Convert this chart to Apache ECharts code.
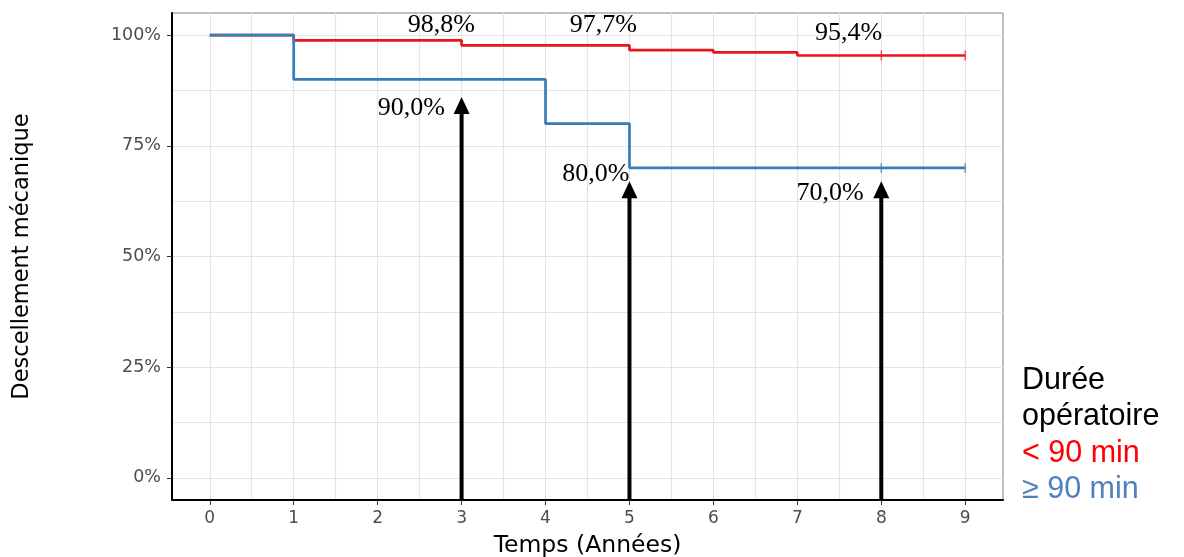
<!DOCTYPE html>
<html><head><meta charset="utf-8">
<script src="https://cdn.jsdelivr.net/npm/echarts@6/dist/echarts.min.js"></script>
<style>html,body{margin:0;padding:0;background:#fff}#c{width:1184px;height:557px}</style>
</head><body><div id="c"></div>
<script>
// Data
const redSteps = [[0,100],[1,98.8],[3,97.7],[5,96.6],[6,96.1],[7,95.4],[9,95.4]];
const blueSteps = [[0,100],[1,90],[4,80],[5,70],[9,70]];
const redCensor = [[8,95.4],[9,95.4]];
const blueCensor = [[8,70],[9,70]];
const xTicks = [0,1,2,3,4,5,6,7,8,9];
const yTicks = [0,25,50,75,100];
const xGrid = [0,0.5,1,1.5,2,2.5,3,3.5,4,4.5,5,5.5,6,6.5,7,7.5,8,8.5,9];
const yGrid = [0,12.5,25,37.5,50,62.5,75,87.5,100];
const arrows = [[3,86],[5,67],[8,67]];
const annotations = [[2.76,102.3,'98,8%'],[4.69,102.3,'97,7%'],[7.61,100.5,'95,4%'],[2.40,83.5,'90,0%'],[4.60,68.6,'80,0%'],[7.39,64.3,'70,0%']];
const legendTitle = ['Durée','opératoire'];
const legendItems = ['< 90 min','≥ 90 min'];
const RED = '#e8161c', BLUE = '#377eb8';

const chart = echarts.init(document.getElementById('c'));
const gridLines = [...xGrid.map(v=>({xAxis:v})), ...yGrid.map(v=>({yAxis:v}))];
const legendStyle = {fontFamily:'Liberation Sans',fontSize:30.5,verticalAlign:'middle'};
chart.setOption({
  animation:false,
  grid:{left:172,right:181,top:13,bottom:57,show:true,borderColor:'#7f7f7f',borderWidth:1,containLabel:false,outerBoundsMode:'none'},
  xAxis:{type:'value',min:-0.45,max:9.45,
    name:'Temps (Années)',nameLocation:'middle',nameGap:34,
    nameTextStyle:{fontFamily:'DejaVu Sans',fontSize:23.5,color:'#000'},
    axisLine:{show:true,onZero:false,lineStyle:{color:'#000',width:2}},
    axisTick:{show:true,customValues:xTicks,length:5,lineStyle:{color:'#333'}},
    axisLabel:{customValues:xTicks,fontFamily:'DejaVu Sans',fontSize:17,color:'#4d4d4d',margin:10},
    splitLine:{show:false}},
  yAxis:{type:'value',min:-5,max:105,
    name:'Descellement mécanique',nameLocation:'middle',nameGap:138,
    nameTextStyle:{fontFamily:'DejaVu Sans',fontSize:22.5,color:'#000'},
    axisLine:{show:true,onZero:false,lineStyle:{color:'#000',width:2}},
    axisTick:{show:true,customValues:yTicks,length:5,lineStyle:{color:'#333'}},
    axisLabel:{customValues:yTicks,formatter:v=>v+'%',fontFamily:'DejaVu Sans',fontSize:17.5,color:'#4d4d4d',margin:11},
    splitLine:{show:false}},
  series:[
    {type:'line',data:[],silent:true,z:0,
     markLine:{silent:true,symbol:'none',z:0,label:{show:false},animation:false,
       lineStyle:{color:'#e4e4e4',width:1.2,type:'solid'},data:gridLines}},
    {type:'line',step:'end',data:redSteps,showSymbol:false,lineStyle:{color:RED,width:2.7},itemStyle:{color:RED},z:3},
    {type:'line',step:'end',data:blueSteps,showSymbol:false,lineStyle:{color:BLUE,width:2.7},itemStyle:{color:BLUE},z:4},
    {type:'scatter',data:redCensor,symbol:'rect',symbolSize:[1.3,10],itemStyle:{color:RED},z:5},
    {type:'scatter',data:blueCensor,symbol:'rect',symbolSize:[1.3,10],itemStyle:{color:BLUE},z:5},
    {type:'custom',data:arrows,z:6,
     renderItem:(params,api)=>{
       const x=api.value(0), y=api.value(1);
       const b=api.coord([x,-5]), t=api.coord([x,y]);
       const hl=17, hw=8;
       return {type:'group',children:[
         {type:'rect',shape:{x:t[0]-2,y:t[1]+hl-1,width:4,height:b[1]-t[1]-hl+1},style:{fill:'#000'}},
         {type:'polygon',shape:{points:[[t[0],t[1]],[t[0]-hw,t[1]+hl],[t[0]+hw,t[1]+hl]]},style:{fill:'#000'}}
       ]};
     }},
    {type:'custom',data:annotations,z:7,
     renderItem:(params,api)=>{
       const p=api.coord([api.value(0),api.value(1)]);
       return {type:'text',x:p[0],y:p[1],style:{text:annotations[params.dataIndex][2],
         fontFamily:'Liberation Serif',fontSize:26,fill:'#000',align:'center',verticalAlign:'middle'}};
     }}
  ],
  graphic:[
    {type:'text',x:1022,y:381,style:Object.assign({text:legendTitle[0],fill:'#000'},legendStyle)},
    {type:'text',x:1022,y:417,style:Object.assign({text:legendTitle[1],fill:'#000'},legendStyle)},
    {type:'text',x:1022,y:454,style:Object.assign({text:legendItems[0],fill:'#ff0000'},legendStyle)},
    {type:'text',x:1022,y:490,style:Object.assign({text:legendItems[1],fill:'#4f81bd'},legendStyle)}
  ]
});
</script></body></html>
